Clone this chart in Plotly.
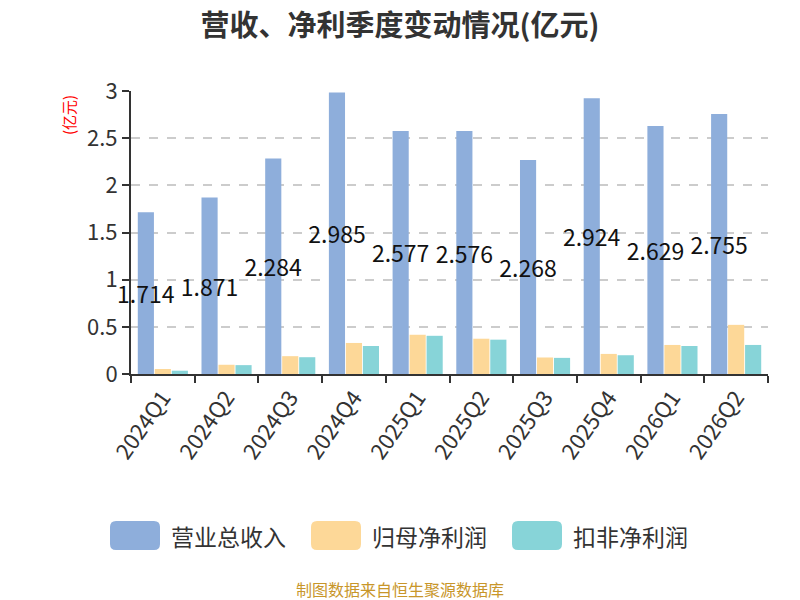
import plotly.graph_objects as go

quarters = ['2024Q1', '2024Q2', '2024Q3', '2024Q4', '2025Q1',
            '2025Q2', '2025Q3', '2025Q4', '2026Q1', '2026Q2']
revenue = [1.714, 1.871, 2.284, 2.985, 2.577, 2.576, 2.268, 2.924, 2.629, 2.755]
net_profit = [0.053, 0.098, 0.189, 0.329, 0.416, 0.374, 0.175, 0.213, 0.308, 0.521]
deducted_profit = [0.035, 0.094, 0.178, 0.297, 0.405, 0.364, 0.171, 0.199, 0.297, 0.308]

series_names = ['营业总收入', '归母净利润', '扣非净利润']
colors = ['#8eaedb', '#fdd898', '#87d4d8']

font = 'Noto Sans CJK SC'
# the page body has an 8px margin, so the figure is drawn 8px in from the corner
O = 8
W, H = 800 - O, 600 - O
# plot box on screen: x 131..768, y 91..374
L, R, T, B = 131 - O, 800 - 768, 91 - O, 600 - 374


# screen pixel -> paper helpers (for the legend / notes drawn by hand)
def px(x):
    return (x - O - L) / (W - L - R)


def py(y):
    return (H - B - (y - O)) / (H - T - B)


fig = go.Figure()
for name, vals, c in zip(series_names, [revenue, net_profit, deducted_profit], colors):
    fig.add_trace(go.Bar(x=quarters, y=vals, name=name, showlegend=False,
                         marker=dict(color=c, line=dict(width=0)), cliponaxis=False))
fig.data[0].update(text=[f'{v:.3f}' for v in revenue],
                   textposition='inside', insidetextanchor='middle',
                   textangle=0, constraintext='none',
                   textfont=dict(color='#111111', size=23, family=font))

fig.update_layout(
    width=W, height=H,
    paper_bgcolor='white', plot_bgcolor='white',
    font=dict(family=font, color='#333333'),
    title=dict(text='<b>营收、净利季度变动情况(亿元)</b>', x=0.5 - O / 2 / W, xanchor='center',
               y=1 - (26 - O) / H, yanchor='middle', font=dict(size=29, color='#333333')),
    margin=dict(l=L, r=R, t=T, b=B),
    barmode='group', bargap=0.2, bargroupgap=0.05,
    showlegend=False,
)
fig.update_xaxes(showline=True, linecolor='#333333', linewidth=2, automargin=False,
                 ticks='outside', tickson='boundaries', ticklen=7, tickwidth=2,
                 tickcolor='#333333', tickangle=-55,
                 tickfont=dict(size=22, color='#333333'))
fig.update_yaxes(range=[0, 3], dtick=0.5, showline=True, linecolor='#333333', linewidth=2,
                 automargin=False, ticks='outside', ticklen=7, tickwidth=2, tickcolor='#333333',
                 showgrid=True, gridcolor='#cccccc', griddash='dash', gridwidth=1.5,
                 zeroline=False, tickfont=dict(size=22, color='#333333'))

fig.add_annotation(text='(亿元)', textangle=-90, xref='paper', yref='paper',
                   x=px(68), y=py(115), xanchor='center', yanchor='middle', showarrow=False,
                   font=dict(size=15, color='red'))

# legend with rounded swatches
legend_x = [110, 311, 512]
sw, sh, r = 50, 29, 6
top = 521
for x0, name, c in zip(legend_x, series_names, colors):
    x1, y0, y1 = x0 + sw, top, top + sh
    path = (f'M {px(x0 + r)},{py(y0)} L {px(x1 - r)},{py(y0)} '
            f'Q {px(x1)},{py(y0)} {px(x1)},{py(y0 + r)} L {px(x1)},{py(y1 - r)} '
            f'Q {px(x1)},{py(y1)} {px(x1 - r)},{py(y1)} L {px(x0 + r)},{py(y1)} '
            f'Q {px(x0)},{py(y1)} {px(x0)},{py(y1 - r)} L {px(x0)},{py(y0 + r)} '
            f'Q {px(x0)},{py(y0)} {px(x0 + r)},{py(y0)} Z')
    fig.add_shape(type='path', path=path, xref='paper', yref='paper',
                  fillcolor=c, line=dict(width=0))
    fig.add_annotation(text=name, xref='paper', yref='paper', x=px(x1 + 9),
                       y=py(top + sh / 2), xanchor='left', yanchor='middle',
                       showarrow=False, font=dict(size=23, color='#333333'))

fig.add_annotation(text='制图数据来自恒生聚源数据库', xref='paper', yref='paper',
                   x=px(400), y=py(589), xanchor='center', yanchor='middle', showarrow=False,
                   font=dict(size=16, color='#c8962a'))

fig.write_html('out.html')
